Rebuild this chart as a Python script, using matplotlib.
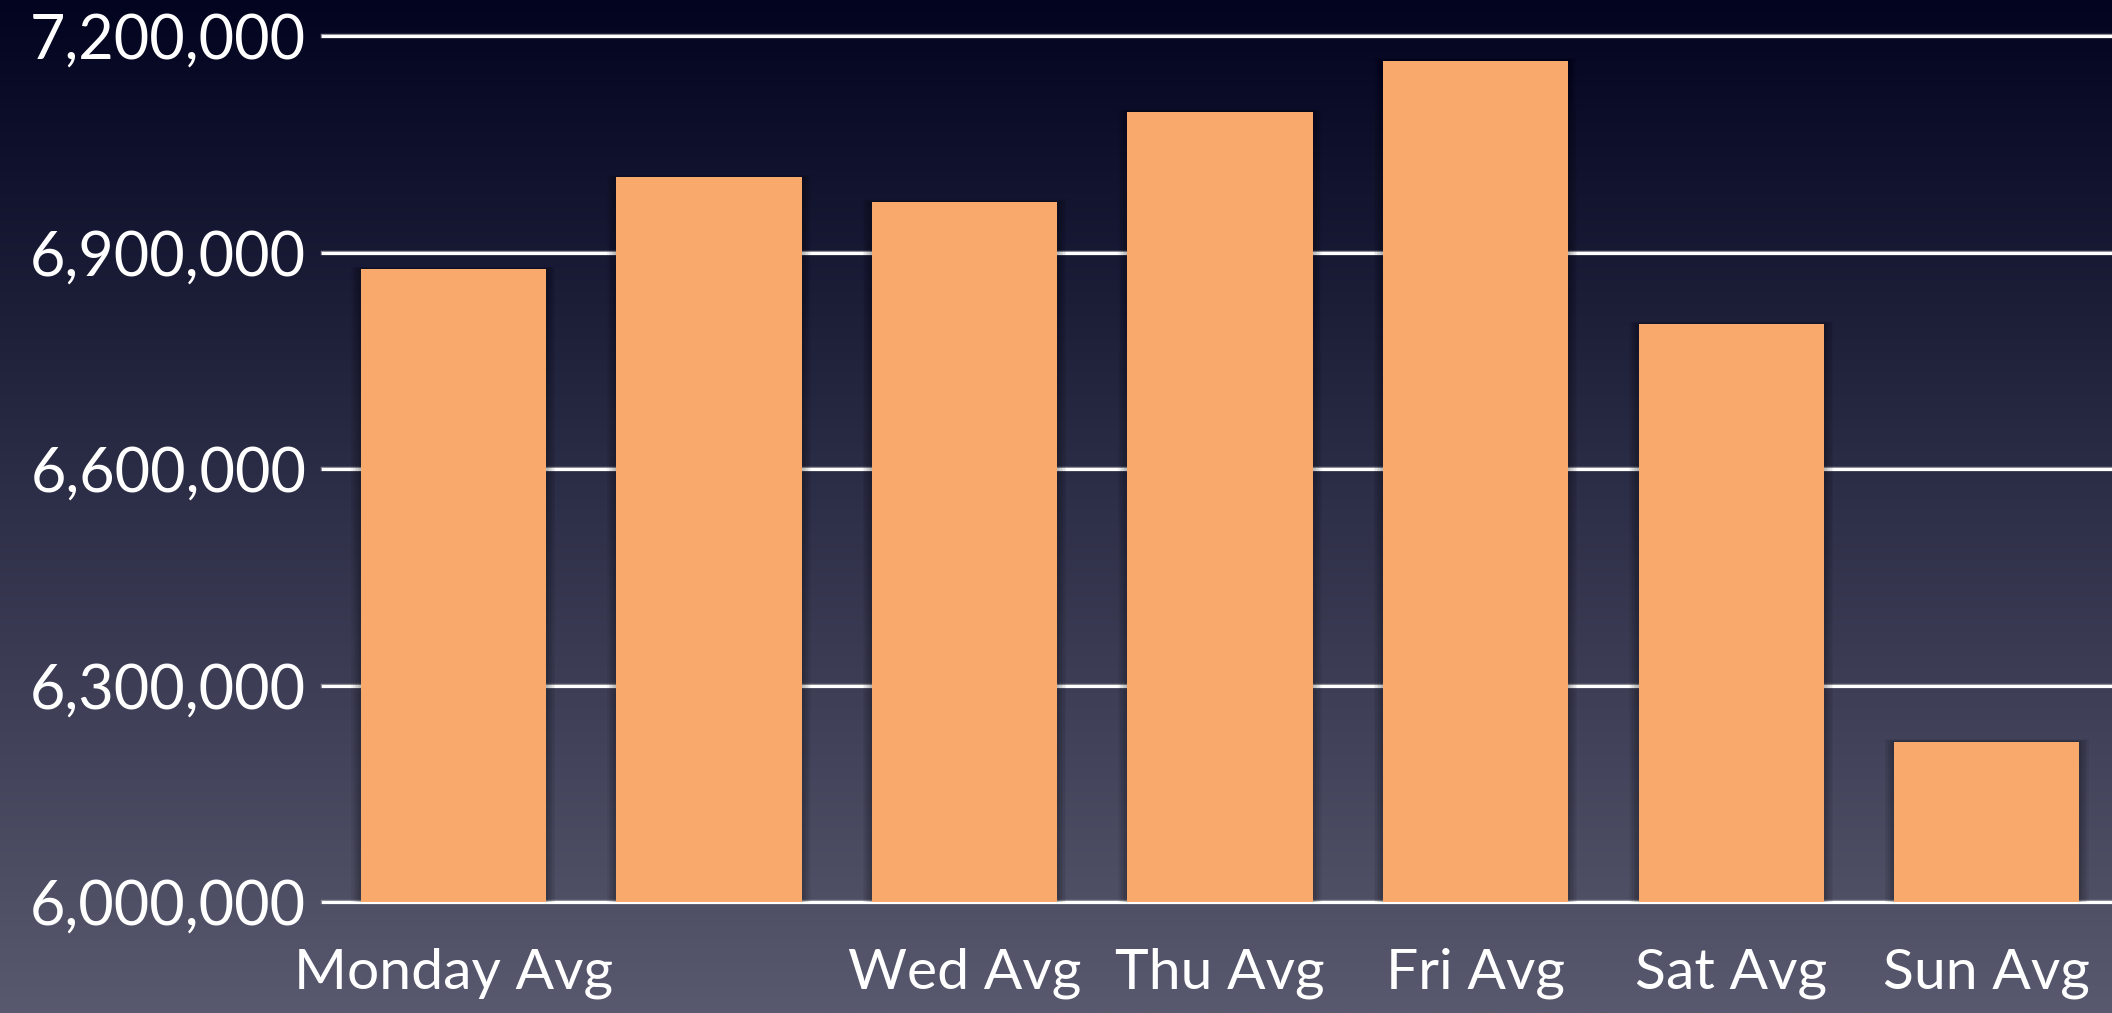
import numpy as np
import matplotlib
matplotlib.use("Agg")
import matplotlib.pyplot as plt
from matplotlib.colors import LinearSegmentedColormap
from matplotlib.ticker import FuncFormatter

# Average daily values
categories = ["Monday Avg", "", "Wed Avg", "Thu Avg", "Fri Avg", "Sat Avg", "Sun Avg"]
values = [6877000, 7004000, 6970000, 7095000, 7166000, 6801000, 6222000]
y_ticks = [6000000, 6300000, 6600000, 6900000, 7200000]

plt.rcParams["font.family"] = ["Lato", "DejaVu Sans"]

W, H, DPI = 2112, 1013, 100
fig = plt.figure(figsize=(W / DPI, H / DPI), dpi=DPI)

# Vertical gradient backdrop: deep navy at the top, slate grey at the bottom
bg = fig.add_axes([0, 0, 1, 1], zorder=-10)
bg_cmap = LinearSegmentedColormap.from_list(
    "backdrop",
    [(0.0, "#58596e"), (0.35, "#3b3c54"), (0.7, "#1c1d37"), (1.0, "#030420")],
)
grad = np.linspace(0, 1, 512).reshape(-1, 1)
bg.imshow(grad, aspect="auto", cmap=bg_cmap, origin="lower", extent=[0, 1, 0, 1])
bg.set_axis_off()

ax = fig.add_axes([323 / W, 1 - 902 / H, 1 - 323 / W, (902 - 36) / H])
ax.patch.set_alpha(0)

x = np.arange(len(values))
bar_w = 0.725
ymin, ymax = 6000000, 7200000

# soft drop shadow behind each bar
for k in range(6):
    grow = 0.012 * (k + 1)
    ax.bar(x, [v - ymin + grow * 50000 for v in values], width=bar_w + grow,
           bottom=ymin, color="black", alpha=0.05, linewidth=0, zorder=2)

ax.bar(x, [v - ymin for v in values], width=bar_w, bottom=ymin,
       color="#f8a96b", linewidth=0, zorder=3)

# horizontal rules
for t in y_ticks:
    ax.axhline(t, color="#8a8a96", linewidth=3.2, zorder=1, clip_on=False)
    ax.axhline(t, color="white", linewidth=2.2, zorder=1.5, clip_on=False)

ax.set_xlim(-0.51, 6.49)
ax.set_ylim(ymin, ymax)
ax.set_yticks(y_ticks)
ax.yaxis.set_major_formatter(FuncFormatter(lambda v, p: f"{int(v):,}"))
ax.set_xticks(x)
ax.set_xticklabels(categories)

for s in ax.spines.values():
    s.set_visible(False)
ax.tick_params(axis="both", length=0, colors="white")
ax.tick_params(axis="y", pad=12, labelsize=44)
ax.tick_params(axis="x", pad=33, labelsize=41)

fig.savefig("out.png", dpi=DPI)
